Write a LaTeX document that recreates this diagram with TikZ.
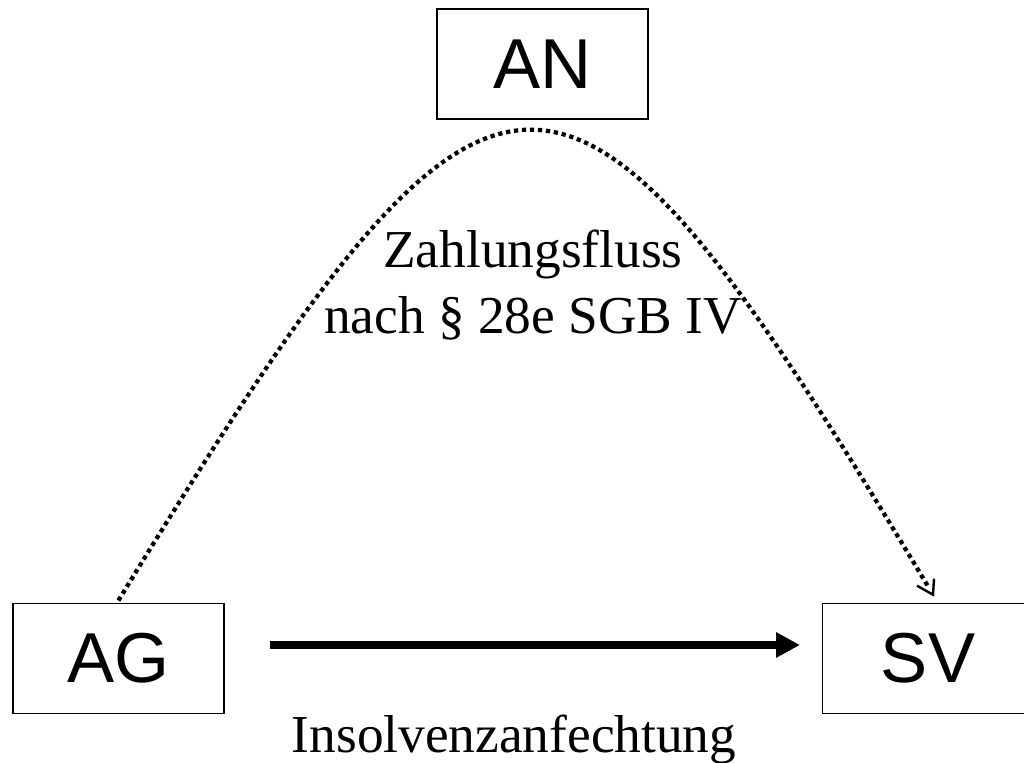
\documentclass[tikz,border=0pt]{standalone}
\usepackage{fontspec}
\setmainfont{Liberation Serif}
\newfontfamily\boxfont{Liberation Sans}
\usetikzlibrary{arrows.meta,calc,decorations.markings}

\begin{document}
\begin{tikzpicture}[
    x=0.75pt, y=-0.75pt,
    party/.style={draw, line width=1.2pt, inner sep=0pt,
      minimum width=158.25pt, minimum height=82.5pt,
      font=\boxfont\fontsize{53}{60}\selectfont},
    caption/.style={inner sep=0pt, font=\fontsize{40}{50}\selectfont},
    % square dots placed along the path
    payment/.style={
      decorate, decoration={markings,
        mark=between positions 0 and 0.99 step 6pt with
          {\fill (-1.6pt,-1.6pt) rectangle (1.6pt,1.6pt);}}},
    % open barb at the end of the dotted flow
    barb/.style={draw, line width=1.8pt, line join=miter, line cap=butt},
    challenge/.style={line width=6pt, -{Triangle[length=18pt, width=18pt]}}
  ]
  \useasboundingbox (0,0) rectangle (1024,763);

  % parties
  \node[party] (AN) at (542.5,64)  {AN};
  \node[party] (AG) at (118.5,658.5) {AG};
  \node[party] (SV) at (928,658.5) {SV};

  % payment flow AG -> SV (via the employee)
  \coordinate (pstart) at ($(AG.north)+(1,-4)$);
  \coordinate (pend)   at ($(SV.north)+(5,-8)$);
  \path[payment] (pstart) .. controls (502,-26) and (561,-26) .. (pend);
  \path[barb] ($(pend)+(-16,-9)$) -- (pend) -- ($(pend)+(1,-16)$);
  \node[caption, align=center] (flow) at (533,285)
    {Zahlungsfluss\\nach § 28e SGB IV};

  % insolvency challenge AG -> SV
  \coordinate (cstart) at (270,645);
  \coordinate (cend)   at (800,645);
  \draw[challenge] (cstart) -- (cend);
  \node[caption, anchor=base] (ins) at (514,752) {Insolvenzanfechtung};
\end{tikzpicture}
\end{document}
